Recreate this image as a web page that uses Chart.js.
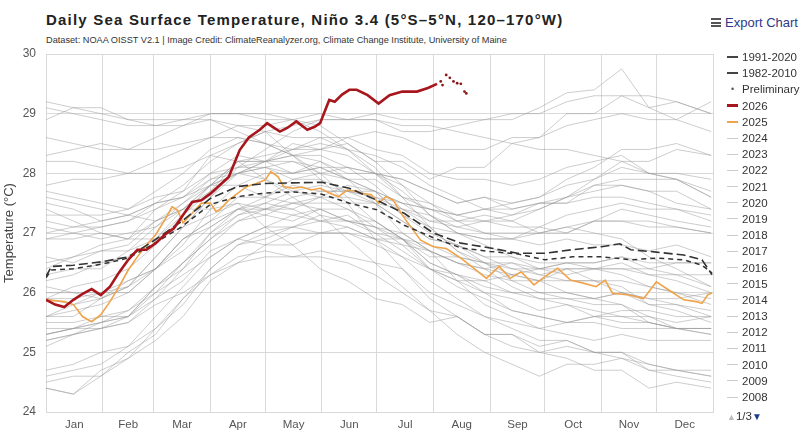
<!DOCTYPE html>
<html lang="en">

<head>
  <meta charset="UTF-8" />
  <title>Daily Sea Surface Temperature, Niño 3.4</title>
  <script src="https://cdn.jsdelivr.net/npm/chart.js"></script>
  <style>
    * {
      margin: 0;
      padding: 0;
      box-sizing: border-box;
    }

    body {
      width: 800px;
      height: 438px;
      background: #fff;
      font-family: Arial, 'Liberation Sans', sans-serif;
      position: relative;
      overflow: hidden;
    }

    #sstChart {
      position: absolute;
      left: 0;
      top: 0;
    }

    .title {
      position: absolute;
      left: 46px;
      top: 11px;
      font-weight: bold;
      font-size: 15px;
      letter-spacing: 1.2px;
      color: #222;
      white-space: nowrap;
    }

    .subtitle {
      position: absolute;
      left: 46px;
      top: 35px;
      font-size: 9.2px;
      color: #333;
      white-space: nowrap;
    }

    .export {
      position: absolute;
      left: 711px;
      top: 15px;
      font-size: 13px;
      color: #2e3a87;
      white-space: nowrap;
    }

    .export .bars {
      display: inline-block;
      width: 10px;
      height: 9px;
      border-top: 2px solid #555;
      border-bottom: 2px solid #555;
      position: relative;
      margin-right: 4px;
      vertical-align: 0px;
    }

    .export .bars::after {
      content: '';
      position: absolute;
      left: 0;
      right: 0;
      top: 1.5px;
      border-top: 2px solid #555;
    }

    .legend {
      position: absolute;
      left: 727px;
      top: 49px;
      font-size: 11.5px;
      color: #333;
    }

    .legend .item {
      height: 16.2px;
      display: flex;
      align-items: center;
      white-space: nowrap;
    }

    .legend .swatch {
      width: 11px;
      margin-right: 4px;
      height: 0;
    }

    .legend .dot {
      width: 11px;
      margin-right: 4px;
      text-align: center;
      font-size: 9px;
      color: #555;
    }

    .pager {
      position: absolute;
      left: 727px;
      top: 410px;
      font-size: 11.5px;
      color: #333;
      white-space: nowrap;
    }

    .pager .up {
      color: #bbb;
      font-size: 9px;
    }

    .pager .down {
      color: #1f3a8a;
      font-size: 10px;
    }
  </style>
</head>

<body>

  <div class="title">Daily Sea Surface Temperature, Niño 3.4 (5°S–5°N, 120–170°W)</div>
  <div class="subtitle">Dataset: NOAA OISST V2.1 | Image Credit: ClimateReanalyzer.org, Climate Change Institute, University of Maine</div>
  <div class="export"><span class="bars"></span>Export Chart</div>
  <canvas id="sstChart" width="800" height="438"></canvas>
  <div class="legend" id="legend"></div>
  <div class="pager"><span class="up">▲</span>1/3<span class="down">▼</span></div>

  <script>
    // month boundaries (day of year) and names
    const GRID_DAYS = [0, 31, 59, 90, 120, 151, 181, 212, 243, 273, 304, 334, 365];
    const MONTHS = ['Jan', 'Feb', 'Mar', 'Apr', 'May', 'Jun', 'Jul', 'Aug', 'Sep', 'Oct', 'Nov', 'Dec'];
    const Y_TICKS = [24, 25, 26, 27, 28, 29, 30];

    // climatologies
    const CLIM_DAYS = [0, 3, 15, 31, 45, 59, 74, 90, 105, 120, 135, 151, 166, 181, 196, 212, 227, 243, 258, 273, 288, 304, 314, 320, 334, 349, 359, 364.5];
    const CLIM_1991_2020 = [26.27, 26.44, 26.46, 26.52, 26.6, 26.87, 27.19, 27.58, 27.78, 27.83, 27.84, 27.85, 27.75, 27.55, 27.33, 27.0, 26.83, 26.75, 26.66, 26.66, 26.72, 26.77, 26.82, 26.72, 26.68, 26.63, 26.55, 26.3];
    const CLIM_1982_2010 = [26.25, 26.38, 26.4, 26.48, 26.58, 26.82, 27.1, 27.48, 27.61, 27.67, 27.69, 27.65, 27.5, 27.39, 27.13, 26.92, 26.75, 26.69, 26.65, 26.55, 26.6, 26.6, 26.57, 26.55, 26.58, 26.55, 26.46, 26.33];

    // 2026 so far, then preliminary days
    const DAYS_2026 = [0, 5, 10, 15, 20, 25, 30, 35, 40, 45, 50, 55, 60, 65, 70, 75, 80, 85, 90, 95, 100, 106, 111, 117, 121, 124, 128, 132, 137, 143, 147, 150, 155, 158, 162, 166, 170, 176, 182, 188, 195, 203, 209, 214];
    const SST_2026 = [25.88, 25.8, 25.76, 25.88, 25.98, 26.06, 25.96, 26.1, 26.34, 26.55, 26.72, 26.72, 26.83, 26.97, 27.08, 27.3, 27.52, 27.55, 27.66, 27.8, 27.94, 28.39, 28.6, 28.73, 28.84, 28.78, 28.7, 28.76, 28.87, 28.73, 28.78, 28.84, 29.23, 29.2, 29.32, 29.4, 29.4, 29.31, 29.17, 29.31, 29.37, 29.37, 29.43, 29.5];
    const PRELIM_DAYS = [216, 217, 219, 221, 223, 225, 227, 229, 230];
    const PRELIM_VALS = [29.54, 29.48, 29.65, 29.6, 29.54, 29.51, 29.5, 29.37, 29.34];

    // 2025
    const DAYS_2025 = [0, 10, 15, 20, 25, 30, 35, 40, 45, 50, 55, 60, 65, 69, 72, 75, 80, 85, 90, 93, 95, 100, 105, 110, 115, 120, 123, 127, 130, 135, 140, 145, 150, 155, 160, 165, 170, 172, 178, 182, 186, 190, 195, 198, 205, 212, 219, 227, 234, 241, 248, 254, 260, 267, 273, 280, 287, 294, 301, 306, 310, 319, 327, 334, 341, 349, 356, 359, 362, 364.5];
    const SST_2025 = [25.88, 25.85, 25.8, 25.6, 25.51, 25.63, 25.85, 26.1, 26.38, 26.6, 26.8, 26.97, 27.22, 27.44, 27.38, 27.17, 27.33, 27.5, 27.5, 27.36, 27.39, 27.55, 27.67, 27.78, 27.83, 27.89, 28.03, 27.94, 27.78, 27.75, 27.77, 27.72, 27.75, 27.67, 27.61, 27.72, 27.7, 27.67, 27.64, 27.5, 27.61, 27.55, 27.3, 27.17, 26.88, 26.77, 26.74, 26.58, 26.41, 26.24, 26.44, 26.24, 26.35, 26.13, 26.27, 26.41, 26.21, 26.16, 26.1, 26.21, 25.99, 25.96, 25.9, 26.18, 26.04, 25.88, 25.85, 25.82, 25.96, 26.0];

    // earlier years, sampled every 15 days
    const YEAR_DAYS = [0, 15, 30, 45, 60, 75, 90, 105, 120, 135, 150, 165, 180, 195, 210, 225, 240, 255, 270, 285, 300, 315, 330, 345, 364];
    const SST_1982 = [26.3, 26.4, 26.4, 26.7, 26.9, 27.4, 27.7, 28.2, 28.2, 28.5, 28.4, 28.5, 28.2, 28.2, 27.9, 28.1, 28.1, 28.5, 28.6, 29.0, 29.0, 29.3, 29.1, 29.2, 29.0];
    const SST_1983 = [28.9, 29.1, 29.0, 28.9, 28.8, 28.9, 29.0, 29.0, 28.9, 28.9, 28.7, 28.4, 28.0, 27.6, 27.1, 26.7, 26.4, 26.1, 25.9, 25.8, 25.7, 25.6, 25.6, 25.5, 25.6];
    const SST_1984 = [25.6, 25.8, 25.9, 26.2, 26.4, 26.9, 27.1, 27.4, 27.3, 27.2, 27.4, 27.2, 27.2, 26.9, 26.8, 26.6, 26.5, 26.3, 26.2, 26.0, 25.9, 25.8, 25.5, 25.4, 25.3];
    const SST_1985 = [25.2, 25.3, 25.5, 25.6, 26.0, 26.3, 26.6, 26.9, 26.8, 27.0, 27.0, 27.1, 26.9, 26.8, 26.4, 26.3, 26.2, 26.3, 26.2, 26.4, 26.4, 26.5, 26.3, 26.2, 26.0];
    const SST_1986 = [25.9, 25.9, 26.0, 26.0, 26.4, 26.9, 27.2, 27.6, 27.6, 27.8, 27.7, 27.7, 27.7, 27.5, 27.4, 27.3, 27.4, 27.5, 27.6, 27.8, 27.9, 28.1, 28.0, 28.0, 27.9];
    const SST_1987 = [27.8, 27.9, 27.9, 28.0, 28.2, 28.4, 28.6, 28.8, 28.8, 28.9, 29.0, 28.9, 28.9, 28.8, 28.8, 28.7, 28.6, 28.5, 28.4, 28.4, 28.3, 28.2, 28.0, 27.9, 27.6];
    const SST_1988 = [27.5, 27.4, 27.2, 27.3, 27.2, 27.4, 27.4, 27.5, 27.1, 26.8, 26.4, 26.2, 25.9, 25.8, 25.5, 25.6, 25.3, 25.3, 25.0, 24.9, 24.7, 24.7, 24.4, 24.5, 24.4];
    const SST_1989 = [24.4, 24.3, 24.7, 24.9, 25.4, 25.8, 26.4, 26.8, 27.0, 27.1, 27.3, 27.2, 27.1, 27.0, 26.7, 26.5, 26.4, 26.5, 26.4, 26.5, 26.5, 26.6, 26.5, 26.5, 26.5];
    const SST_1990 = [26.5, 26.6, 26.7, 26.8, 27.2, 27.5, 27.9, 28.1, 28.2, 28.0, 28.1, 27.9, 27.9, 27.6, 27.4, 27.2, 27.2, 27.1, 27.1, 27.0, 27.2, 27.2, 27.2, 27.1, 27.0];
    const SST_1991 = [26.9, 27.0, 26.9, 27.0, 27.1, 27.5, 27.8, 28.2, 28.3, 28.4, 28.5, 28.4, 28.3, 28.1, 27.8, 27.6, 27.4, 27.4, 27.5, 27.6, 27.9, 28.2, 28.2, 28.4, 28.3];
    const SST_1992 = [28.3, 28.4, 28.5, 28.4, 28.6, 28.8, 29.0, 29.0, 29.0, 28.9, 28.8, 28.5, 28.2, 27.8, 27.3, 27.0, 26.8, 26.6, 26.5, 26.5, 26.4, 26.4, 26.4, 26.5, 26.5];
    const SST_1993 = [26.4, 26.6, 26.8, 26.9, 27.4, 27.7, 28.3, 28.5, 28.7, 28.6, 28.6, 28.4, 28.1, 27.6, 27.5, 27.2, 27.0, 26.9, 26.8, 26.9, 26.8, 26.8, 26.7, 26.8, 26.6];
    const SST_1994 = [26.6, 26.5, 26.7, 26.7, 27.1, 27.4, 27.8, 28.2, 28.2, 28.3, 28.3, 28.1, 28.0, 27.8, 27.5, 27.3, 27.4, 27.3, 27.5, 27.5, 27.8, 27.9, 27.9, 27.9, 27.7];
    const SST_1995 = [27.7, 27.6, 27.5, 27.4, 27.6, 27.7, 28.0, 28.1, 28.1, 27.9, 27.9, 27.7, 27.5, 27.0, 26.7, 26.2, 26.0, 25.7, 25.6, 25.5, 25.6, 25.5, 25.5, 25.4, 25.4];
    const SST_1996 = [25.3, 25.4, 25.5, 25.6, 26.1, 26.4, 27.0, 27.3, 27.4, 27.5, 27.4, 27.4, 27.2, 26.9, 26.7, 26.5, 26.3, 26.2, 26.2, 26.2, 26.2, 26.2, 26.1, 26.0, 25.9];
    const SST_1997 = [25.9, 25.8, 26.0, 26.1, 26.6, 27.1, 27.6, 28.1, 28.4, 28.7, 28.9, 28.9, 29.0, 28.9, 28.9, 28.9, 28.9, 29.0, 29.0, 29.2, 29.3, 29.3, 29.3, 29.2, 29.0];
    const SST_1998 = [29.1, 29.0, 28.9, 28.8, 28.8, 28.8, 28.9, 28.8, 28.7, 28.3, 27.9, 27.5, 26.9, 26.4, 25.9, 25.6, 25.3, 25.1, 25.0, 25.1, 25.0, 24.9, 24.8, 24.7, 24.6];
    const SST_1999 = [24.6, 24.7, 24.8, 25.1, 25.4, 25.9, 26.3, 26.6, 26.7, 26.6, 26.6, 26.5, 26.3, 26.0, 25.7, 25.6, 25.3, 25.3, 25.1, 25.2, 25.0, 25.0, 24.7, 24.6, 24.5];
    const SST_2000 = [24.4, 24.3, 24.6, 25.0, 25.3, 25.9, 26.4, 26.8, 26.9, 27.1, 27.0, 27.0, 26.8, 26.6, 26.4, 26.2, 26.2, 26.0, 26.0, 26.0, 25.9, 26.0, 25.8, 25.8, 25.7];
    const SST_2001 = [25.6, 25.7, 25.8, 26.0, 26.4, 26.7, 27.1, 27.4, 27.5, 27.4, 27.6, 27.6, 27.5, 27.2, 26.9, 26.8, 26.5, 26.5, 26.3, 26.4, 26.4, 26.4, 26.3, 26.3, 26.3];
    const SST_2002 = [26.2, 26.3, 26.5, 26.6, 26.9, 27.3, 27.8, 28.0, 28.2, 28.3, 28.4, 28.6, 28.4, 28.3, 28.0, 27.9, 27.9, 27.8, 27.9, 28.1, 28.2, 28.3, 28.0, 27.9, 27.6];
    const SST_2003 = [27.6, 27.5, 27.4, 27.3, 27.5, 27.6, 27.8, 27.8, 27.6, 27.5, 27.5, 27.5, 27.5, 27.4, 27.3, 27.1, 27.0, 27.0, 27.0, 27.1, 27.2, 27.2, 27.1, 27.1, 27.0];
    const SST_2004 = [26.9, 26.9, 27.0, 26.9, 27.2, 27.4, 27.8, 28.0, 28.1, 28.0, 28.2, 28.0, 28.0, 27.9, 27.7, 27.5, 27.6, 27.4, 27.5, 27.5, 27.6, 27.6, 27.5, 27.4, 27.3];
    const SST_2005 = [27.2, 27.1, 27.2, 27.3, 27.5, 27.6, 28.0, 28.3, 28.2, 28.2, 28.0, 27.9, 27.5, 27.2, 26.9, 26.8, 26.6, 26.6, 26.4, 26.4, 26.2, 26.1, 25.8, 25.7, 25.5];
    const SST_2006 = [25.4, 25.4, 25.5, 25.7, 26.0, 26.5, 26.9, 27.3, 27.5, 27.7, 27.8, 27.7, 27.6, 27.5, 27.2, 27.2, 27.3, 27.2, 27.4, 27.6, 27.8, 27.8, 27.7, 27.7, 27.4];
    const SST_2007 = [27.4, 27.2, 27.0, 26.9, 26.9, 27.1, 27.3, 27.5, 27.4, 27.4, 27.2, 27.1, 26.9, 26.6, 26.2, 25.9, 25.6, 25.4, 25.2, 25.2, 25.0, 25.0, 24.8, 24.7, 24.6];
    const SST_2008 = [24.5, 24.6, 24.6, 24.9, 25.2, 25.6, 26.2, 26.5, 26.8, 26.8, 27.0, 27.0, 26.9, 26.9, 26.6, 26.6, 26.5, 26.4, 26.3, 26.2, 26.2, 26.0, 25.9, 25.8, 25.6];
    const SST_2009 = [25.5, 25.5, 25.6, 25.6, 26.1, 26.5, 27.0, 27.4, 27.6, 27.9, 28.0, 28.1, 28.0, 27.9, 27.7, 27.5, 27.6, 27.5, 27.6, 27.9, 28.1, 28.4, 28.4, 28.5, 28.3];
    const SST_2010 = [28.2, 28.2, 28.1, 28.0, 28.0, 28.1, 28.3, 28.2, 27.9, 27.6, 27.3, 26.9, 26.5, 26.1, 25.7, 25.3, 25.0, 24.8, 24.6, 24.8, 24.8, 24.9, 24.7, 24.7, 24.7];
    const SST_2011 = [24.7, 24.8, 25.0, 25.1, 25.6, 26.1, 26.6, 26.9, 27.1, 27.1, 27.2, 27.2, 27.0, 26.7, 26.4, 26.1, 25.9, 25.7, 25.6, 25.5, 25.5, 25.4, 25.4, 25.4, 25.4];
    const SST_2012 = [25.3, 25.4, 25.6, 25.7, 26.1, 26.5, 26.9, 27.2, 27.3, 27.5, 27.6, 27.8, 27.7, 27.5, 27.4, 27.3, 27.2, 27.2, 27.0, 27.1, 27.0, 26.9, 26.6, 26.4, 26.1];
    const SST_2013 = [26.1, 26.0, 26.0, 26.2, 26.4, 26.9, 27.2, 27.4, 27.4, 27.3, 27.4, 27.2, 27.1, 26.8, 26.7, 26.5, 26.4, 26.3, 26.4, 26.5, 26.5, 26.6, 26.4, 26.3, 26.1];
    const SST_2014 = [26.0, 26.0, 25.9, 26.1, 26.4, 26.8, 27.4, 27.8, 28.0, 28.0, 28.1, 27.9, 27.7, 27.3, 27.1, 27.0, 26.9, 26.9, 27.1, 27.3, 27.4, 27.5, 27.4, 27.4, 27.2];
    const SST_2015 = [27.1, 27.0, 27.1, 27.2, 27.5, 27.8, 28.2, 28.5, 28.7, 28.8, 28.9, 28.9, 28.9, 28.7, 28.7, 28.8, 28.9, 28.9, 29.1, 29.35, 29.4, 29.75, 29.1, 28.9, 29.2];
    const SST_2016 = [29.2, 29.1, 29.1, 28.9, 28.9, 28.9, 28.9, 28.7, 28.5, 28.3, 28.0, 27.6, 27.2, 26.9, 26.5, 26.3, 26.1, 26.0, 25.9, 25.9, 25.9, 26.0, 25.9, 25.9, 26.0];
    const SST_2017 = [25.9, 26.1, 26.2, 26.4, 26.8, 27.3, 27.7, 28.0, 28.1, 28.2, 28.1, 28.1, 27.8, 27.4, 27.1, 26.7, 26.5, 26.2, 26.0, 25.9, 25.8, 25.8, 25.6, 25.4, 25.4];
    const SST_2018 = [25.3, 25.4, 25.4, 25.6, 25.9, 26.4, 26.8, 27.2, 27.4, 27.6, 27.7, 27.7, 27.6, 27.4, 27.2, 27.1, 27.2, 27.3, 27.4, 27.6, 27.7, 27.8, 27.7, 27.5, 27.4];
    const SST_2019 = [27.3, 27.3, 27.3, 27.4, 27.7, 28.0, 28.4, 28.6, 28.5, 28.4, 28.4, 28.3, 28.0, 27.7, 27.3, 27.0, 26.9, 26.9, 27.0, 27.0, 27.2, 27.4, 27.3, 27.2, 27.1];
    const SST_2020 = [27.0, 27.1, 27.1, 27.2, 27.4, 27.6, 27.9, 28.0, 27.9, 27.7, 27.6, 27.4, 27.1, 26.9, 26.4, 26.2, 25.8, 25.6, 25.4, 25.3, 25.2, 25.3, 25.2, 25.2, 25.2];
    const SST_2021 = [25.1, 25.3, 25.4, 25.5, 25.9, 26.2, 26.7, 26.9, 27.1, 27.3, 27.2, 27.3, 27.0, 26.9, 26.5, 26.3, 26.0, 25.9, 25.7, 25.8, 25.6, 25.6, 25.5, 25.4, 25.3];
    const SST_2022 = [25.2, 25.3, 25.4, 25.5, 25.8, 26.0, 26.3, 26.5, 26.6, 26.6, 26.7, 26.6, 26.5, 26.4, 26.0, 25.8, 25.6, 25.5, 25.4, 25.5, 25.6, 25.7, 25.7, 25.6, 25.6];
    const SST_2023 = [25.6, 25.6, 25.9, 26.1, 26.6, 27.1, 27.6, 28.0, 28.2, 28.4, 28.6, 28.6, 28.7, 28.6, 28.4, 28.4, 28.4, 28.6, 28.6, 28.8, 28.9, 29.0, 28.9, 28.9, 28.7];
    const SST_2024 = [28.6, 28.5, 28.4, 28.4, 28.4, 28.5, 28.6, 28.6, 28.5, 28.3, 28.2, 27.9, 27.7, 27.3, 27.0, 26.8, 26.6, 26.4, 26.4, 26.3, 26.4, 26.3, 26.1, 26.0, 25.8];

    const PAST_YEARS = [
      [1982, SST_1982], [1983, SST_1983], [1984, SST_1984], [1985, SST_1985], [1986, SST_1986],
      [1987, SST_1987], [1988, SST_1988], [1989, SST_1989], [1990, SST_1990], [1991, SST_1991],
      [1992, SST_1992], [1993, SST_1993], [1994, SST_1994], [1995, SST_1995], [1996, SST_1996],
      [1997, SST_1997], [1998, SST_1998], [1999, SST_1999], [2000, SST_2000], [2001, SST_2001],
      [2002, SST_2002], [2003, SST_2003], [2004, SST_2004], [2005, SST_2005], [2006, SST_2006],
      [2007, SST_2007], [2008, SST_2008], [2009, SST_2009], [2010, SST_2010], [2011, SST_2011],
      [2012, SST_2012], [2013, SST_2013], [2014, SST_2014], [2015, SST_2015], [2016, SST_2016],
      [2017, SST_2017], [2018, SST_2018], [2019, SST_2019], [2020, SST_2020], [2021, SST_2021],
      [2022, SST_2022], [2023, SST_2023], [2024, SST_2024]
    ];

    const GRID_COLOR = '#d9d9d9';
    const GRAY_LINE = 'rgba(150, 150, 150, 0.48)';
    const RED = '#a8161d';
    const ORANGE = '#efa34a';

    function pts(days, vals) {
      return days.map((d, i) => ({ x: d, y: vals[i] }));
    }

    // label ticks sit mid-month, grid ticks on month boundaries
    const labelDays = MONTHS.map((m, i) => (GRID_DAYS[i] + GRID_DAYS[i + 1]) / 2);
    const xTicks = GRID_DAYS.concat(labelDays).sort((a, b) => a - b);

    const datasets = [
      {
        label: 'Preliminary', data: pts(PRELIM_DAYS, PRELIM_VALS), showLine: false,
        pointRadius: 1.4, pointBackgroundColor: '#8a1a1a', pointBorderWidth: 0
      },
      { label: '2026', data: pts(DAYS_2026, SST_2026), borderColor: RED, borderWidth: 2.6 },
      { label: '1991-2020', data: pts(CLIM_DAYS, CLIM_1991_2020), borderColor: '#333', borderWidth: 1.6, borderDash: [9, 4] },
      { label: '1982-2010', data: pts(CLIM_DAYS, CLIM_1982_2010), borderColor: '#333', borderWidth: 1.5, borderDash: [5, 4] },
      { label: '2025', data: pts(DAYS_2025, SST_2025), borderColor: ORANGE, borderWidth: 1.6 }
    ];
    PAST_YEARS.slice().reverse().forEach(([year, vals]) => {
      datasets.push({ label: String(year), data: pts(YEAR_DAYS, vals), borderColor: GRAY_LINE, borderWidth: 1 });
    });

    const ctx = document.getElementById('sstChart').getContext('2d');
    const sstChart = new Chart(ctx, {
      type: 'line',
      data: { datasets: datasets },
      options: {
        responsive: false,
        animation: false,
        layout: { padding: { left: 0, top: 54, right: 87, bottom: 0 } },
        elements: {
          point: { radius: 0 },
          line: { tension: 0 }
        },
        plugins: {
          legend: { display: false },
          tooltip: { enabled: false }
        },
        scales: {
          x: {
            type: 'linear',
            min: 0,
            max: 365,
            afterBuildTicks: (scale) => { scale.ticks = xTicks.map(v => ({ value: v })); },
            afterFit: (scale) => { scale.height = 26; },
            ticks: {
              autoSkip: false,
              maxRotation: 0,
              padding: 6,
              color: '#555',
              font: { family: 'Arial, Liberation Sans, sans-serif', size: 11.5 },
              callback: (value) => {
                const i = labelDays.indexOf(value);
                return i >= 0 ? MONTHS[i] : '';
              }
            },
            grid: {
              drawTicks: false,
              color: (c) => (c.tick && GRID_DAYS.includes(c.tick.value)) ? GRID_COLOR : 'rgba(0,0,0,0)'
            },
            border: { color: GRID_COLOR }
          },
          y: {
            min: 24,
            max: 30,
            afterBuildTicks: (scale) => { scale.ticks = Y_TICKS.map(v => ({ value: v })); },
            afterFit: (scale) => { scale.width = 46; },
            ticks: {
              padding: 10,
              color: '#555',
              font: { family: 'Arial, Liberation Sans, sans-serif', size: 12 }
            },
            grid: { drawTicks: false, color: GRID_COLOR },
            border: { color: GRID_COLOR },
            title: {
              display: true,
              text: 'Temperature (°C)',
              color: '#444',
              padding: { top: 2, bottom: 0 },
              font: { family: 'Arial, Liberation Sans, sans-serif', size: 13 }
            }
          }
        }
      }
    });

    // legend, first page
    const legendEl = document.getElementById('legend');
    const legendItems = [
      { text: '1991-2020', css: 'border-top:2px solid #444' },
      { text: '1982-2010', css: 'border-top:2px dashed #444' },
      { text: 'Preliminary', dot: true },
      { text: '2026', css: 'border-top:3px solid ' + RED },
      { text: '2025', css: 'border-top:2px solid ' + ORANGE }
    ];
    PAST_YEARS.slice().reverse().slice(0, 17).forEach(([year]) => {
      legendItems.push({ text: String(year), css: 'border-top:1px solid #ccc' });
    });
    legendItems.forEach(item => {
      const row = document.createElement('div');
      row.className = 'item';
      const mark = document.createElement('span');
      if (item.dot) {
        mark.className = 'dot';
        mark.textContent = '•';
      } else {
        mark.className = 'swatch';
        mark.style.cssText = item.css;
      }
      row.appendChild(mark);
      row.appendChild(document.createTextNode(item.text));
      legendEl.appendChild(row);
    });
  </script>

</body>

</html>
